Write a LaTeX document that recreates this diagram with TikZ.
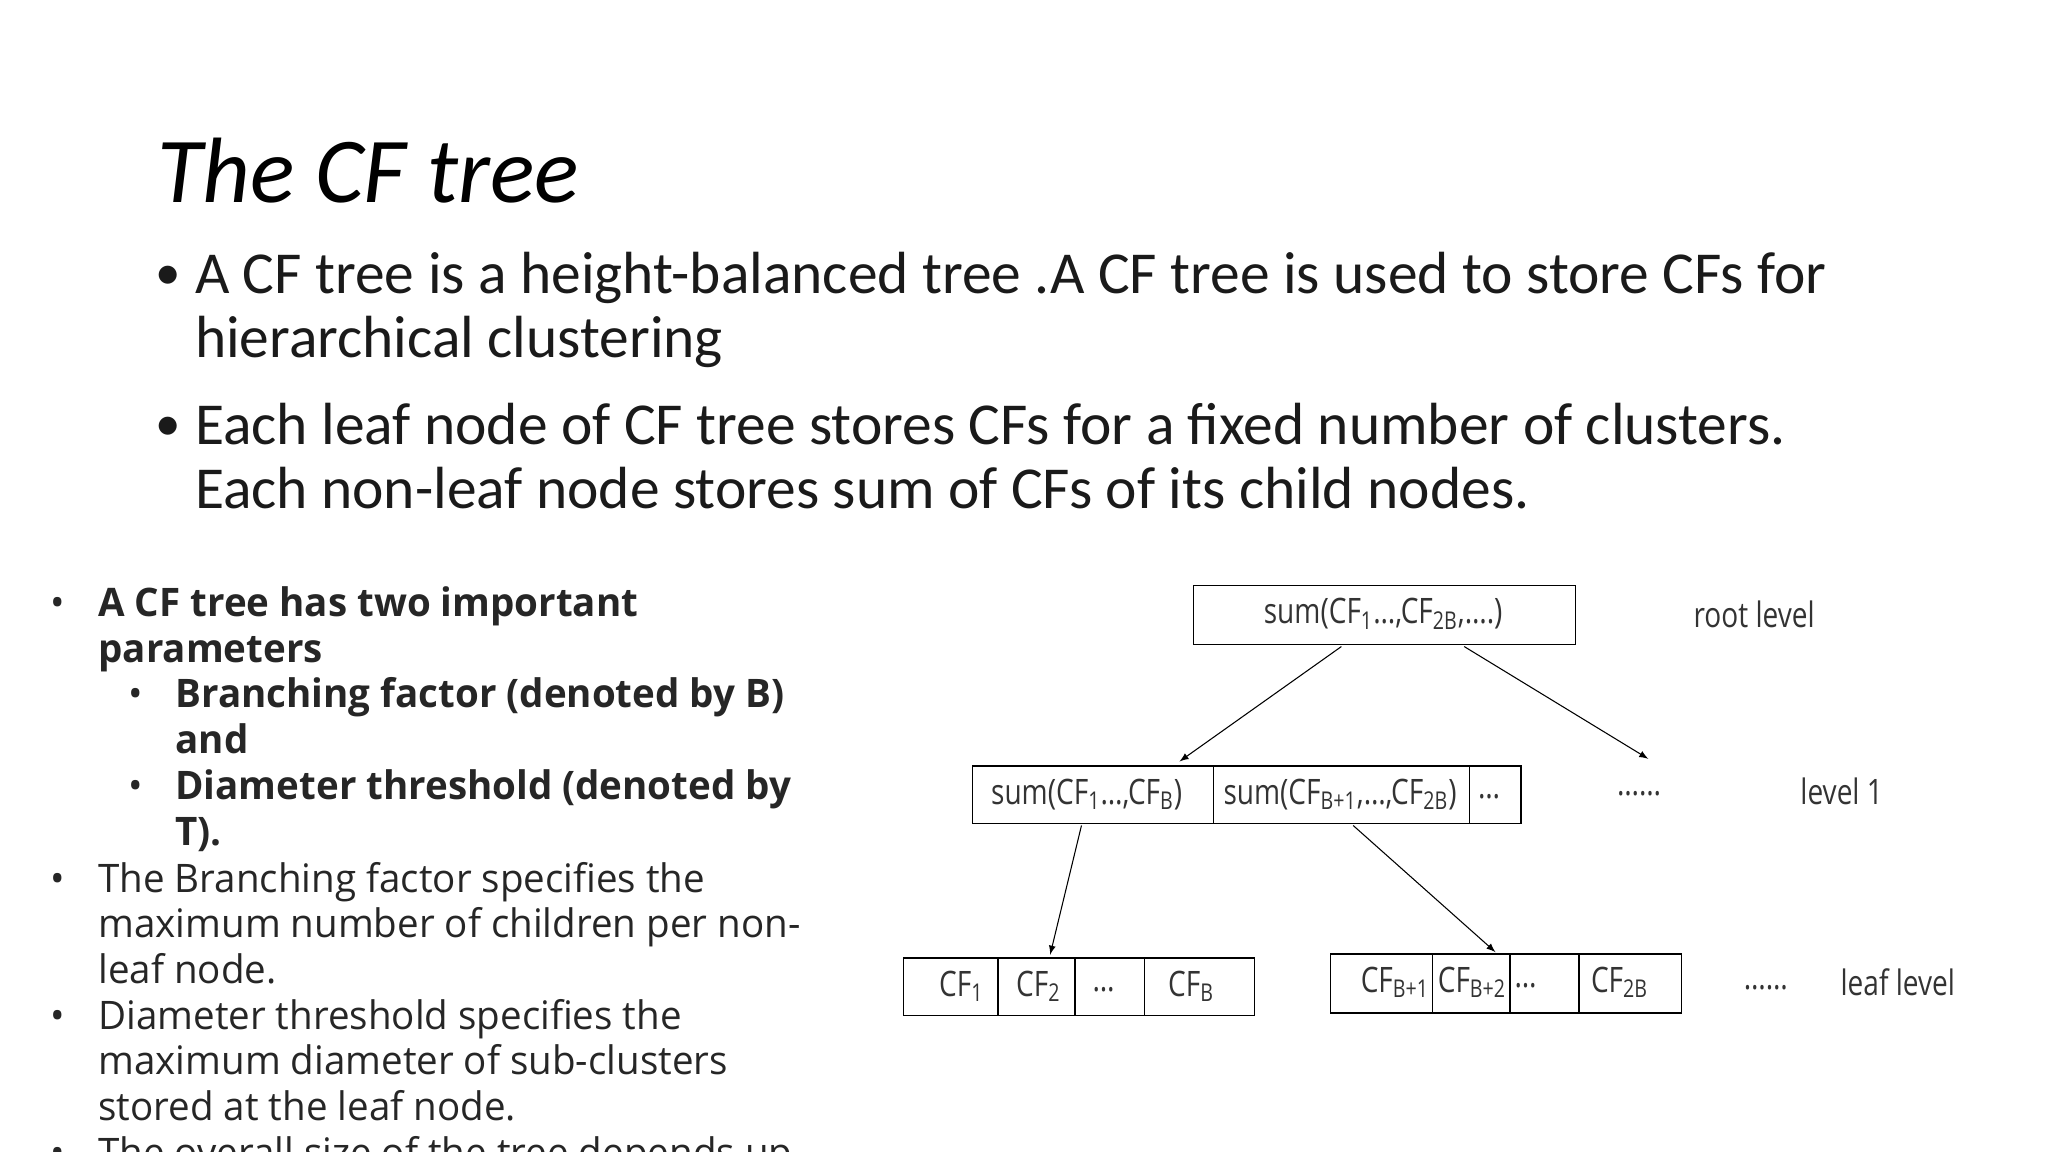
\documentclass[tikz,border=0pt]{standalone}
\usepackage{fontspec}
\setmainfont{Carlito}
\newfontfamily\lfont[FakeStretch=0.98]{Open Sans}
\newfontfamily\dfont[FakeStretch=0.8]{Open Sans}
\definecolor{txt}{HTML}{1A1A1A}
\definecolor{ltxt}{HTML}{262626}
\definecolor{dtxt}{HTML}{333333}
\begin{document}
\begin{tikzpicture}[x=0.0216cm,y=-0.0216cm,
  mainl/.style={anchor=base west,inner sep=0,font=\fontsize{28}{30}\selectfont,text=txt},
  mainb/.style={anchor=base west,inner sep=0,font=\fontsize{24}{26}\selectfont,text=txt},
  leftl/.style={anchor=base west,inner sep=0,font=\lfont\fontsize{18.5}{20}\selectfont,text=ltxt},
  leftb/.style={leftl,font=\lfont\bfseries\fontsize{18.5}{20}\selectfont},
  box/.style={draw=black,line width=0.6pt,inner sep=0,anchor=north west},
  dl/.style={inner sep=0,font=\dfont\fontsize{16.5}{18}\selectfont,text=dtxt},
  arr/.style={-latex,line width=0.5pt}]
\useasboundingbox (0,0) rectangle (1568,882);
% title
\node[anchor=base west,inner sep=0,font=\itshape\fontsize{43.7}{46}\selectfont,text=black] (title) at (120,155) {The CF tree};
% main bullets
\node[mainb] (b1) at (119,222) {•};
\node[mainl] (m1) at (149,225) {A CF tree is a height-balanced tree .A CF tree is used to store CFs for};
\node[mainl] (m2) at (149,274) {hierarchical clustering};
\node[mainb] (b2) at (119,337) {•};
\node[mainl] (m3) at (149,340) {Each leaf node of CF tree stores CFs for a fixed number of clusters.};
\node[mainl] (m4) at (149,389) {Each non-leaf node stores sum of CFs of its child nodes.};
% left text
\node[leftl] (lb1) at (38,472) {•};
\node[leftb] (l1) at (75,472) {A CF tree has two important};
\node[leftb] (l2) at (75,507) {parameters};
\node[leftl] (lb2) at (98,542) {•};
\node[leftb] (l3) at (134,542) {Branching factor (denoted by B)};
\node[leftb] (l4) at (134,577) {and};
\node[leftl] (lb3) at (98,612) {•};
\node[leftb] (l5) at (134,612) {Diameter threshold (denoted by};
\node[leftb] (l6) at (134,647) {T).};
\node[leftl] (lb4) at (38,683) {•};
\node[leftl] (l7) at (75,683) {The Branching factor specifies the};
\node[leftl] (l8) at (75,718) {maximum number of children per non-};
\node[leftl] (l9) at (75,753) {leaf node.};
\node[leftl] (lb5) at (38,788) {•};
\node[leftl] (l10) at (75,788) {Diameter threshold specifies the};
\node[leftl] (l11) at (75,823) {maximum diameter of sub-clusters};
\node[leftl] (l12) at (75,858) {stored at the leaf node.};
\node[leftl] (lb6) at (38,893) {•};
\node[leftl] (l13) at (75,893) {The overall size of the tree depends up};
% diagram boxes
\node[box,minimum width=293*0.0216cm,minimum height=45*0.0216cm] (root) at (913,448) {};
\node[box,minimum width=420*0.0216cm,minimum height=44*0.0216cm] (lv1) at (744,586) {};
\node[box,minimum width=269*0.0216cm,minimum height=44*0.0216cm] (lf1) at (691,733) {};
\node[box,minimum width=269*0.0216cm,minimum height=45*0.0216cm] (lf2) at (1018,730) {};
% dividers
\foreach \x/\n in {929/a,1125/b}{\coordinate (v\n) at (\x,586); \draw[line width=0.6pt] (v\n) -- ++(0,44);}
\foreach \x/\n in {764/c,823/d,876/e}{\coordinate (v\n) at (\x,733); \draw[line width=0.6pt] (v\n) -- ++(0,44);}
\foreach \x/\n in {1097/f,1156/g,1209/h}{\coordinate (v\n) at (\x,730); \draw[line width=0.6pt] (v\n) -- ++(0,45);}
% labels
\node[dl] (t0) at (1059,470) {sum(CF\textsubscript{1}…,CF\textsubscript{2B},….)};
\node[dl] (rl) at (1343,470) {root level};
\node[dl] (t1) at (832,608) {sum(CF\textsubscript{1}…,CF\textsubscript{B})};
\node[dl] (t2) at (1026,608) {sum(CF\textsubscript{B+1},…,CF\textsubscript{2B})};
\node[dl] (t3) at (1140,610) {…};
\node[dl] (t4) at (1255,608) {……};
\node[dl] (l1l) at (1410,606) {level 1};
\node[dl] (c1) at (736,755) {CF\textsubscript{1}};
\node[dl] (c2) at (795,755) {CF\textsubscript{2}};
\node[dl] (c3) at (845,758) {…};
\node[dl] (c4) at (912,755) {CF\textsubscript{B}};
\node[dl] (c5) at (1068,752) {CF\textsubscript{B+1}};
\node[dl] (c6) at (1127,752) {CF\textsubscript{B+2}};
\node[dl] (c7) at (1168,755) {…};
\node[dl] (c8) at (1240,752) {CF\textsubscript{2B}};
\node[dl] (c9) at (1352,756) {……};
\node[dl] (lfl) at (1453,752) {leaf level};
% arrows
\coordinate (r1) at (1027,495);
\coordinate (r2) at (1121,495);
\coordinate (e1) at (903,583);
\coordinate (e2) at (1262,581);
\coordinate (s1) at (828,632);
\coordinate (s2) at (1036,632);
\coordinate (f1) at (804,731);
\coordinate (f2) at (1145,729);
\draw[arr] (r1) -- (e1);
\draw[arr] (r2) -- (e2);
\draw[arr] (s1) -- (f1);
\draw[arr] (s2) -- (f2);
\end{tikzpicture}
\end{document}
